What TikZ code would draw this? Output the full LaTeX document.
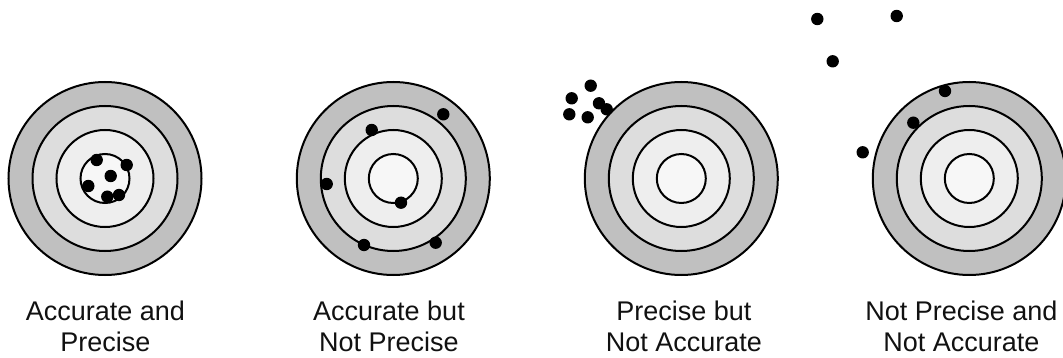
\documentclass[tikz,border=0pt]{standalone}
\usepackage{fontspec}
\setmainfont{Liberation Sans}
\definecolor{ringA}{RGB}{192,192,192}
\definecolor{ringB}{RGB}{221,221,221}
\definecolor{ringC}{RGB}{238,238,238}
\definecolor{ringD}{RGB}{247,247,247}
\definecolor{txt}{RGB}{17,17,17}
\begin{document}
\begin{tikzpicture}[x=1pt,y=-1pt,
  ring/.style={draw=black,line width=2pt},
  shot/.style={fill=black},
  lbl/.style={font=\fontsize{27}{31}\selectfont,align=center,anchor=base,inner sep=0pt,text=txt}]
\useasboundingbox (0,0) rectangle (1063,358);
\begin{scope}
\clip (0,0) rectangle (1063,358);
\foreach \cx in {105,393.3,681.3,969.3}{
  \filldraw[ring,fill=ringA] (\cx,178.5) circle (96.5);
  \filldraw[ring,fill=ringB] (\cx,178.5) circle (72.5);
  \filldraw[ring,fill=ringC] (\cx,178.5) circle (48.5);
  \filldraw[ring,fill=ringD] (\cx,178.5) circle (24.5);
}
% target 1
\foreach \x/\y in {96.7/160,126.7/165,110.7/176,88.3/186,107.3/196.7,119/195}
  \fill[shot] (\x,\y) circle (6.2);
% target 2
\foreach \x/\y in {443.3/114.3,371.7/130,326.7/184,401/202.7,364/245,435.7/242.7}
  \fill[shot] (\x,\y) circle (6.2);
% target 3
\foreach \x/\y in {590.7/85.7,571.7/98.3,599/103.3,606.7/109.3,569.3/114.3,587.7/117.3}
  \fill[shot] (\x,\y) circle (6.2);
% target 4
\foreach \x/\y in {817.3/19,896.7/16,832.7/61.3,945/91,913.3/122.7,862.7/152.3}
  \fill[shot] (\x,\y) circle (6.2);
\end{scope}
\node[lbl] (l1) at (105.5,351) {Accurate and\\Precise};
\node[lbl] (l2) at (389,351) {Accurate but\\Not Precise};
\node[lbl] (l3) at (684,351) {Precise but\\Not Accurate};
\node[lbl] (l4) at (961.5,351) {Not Precise and\\Not Accurate};
\end{tikzpicture}
\end{document}
